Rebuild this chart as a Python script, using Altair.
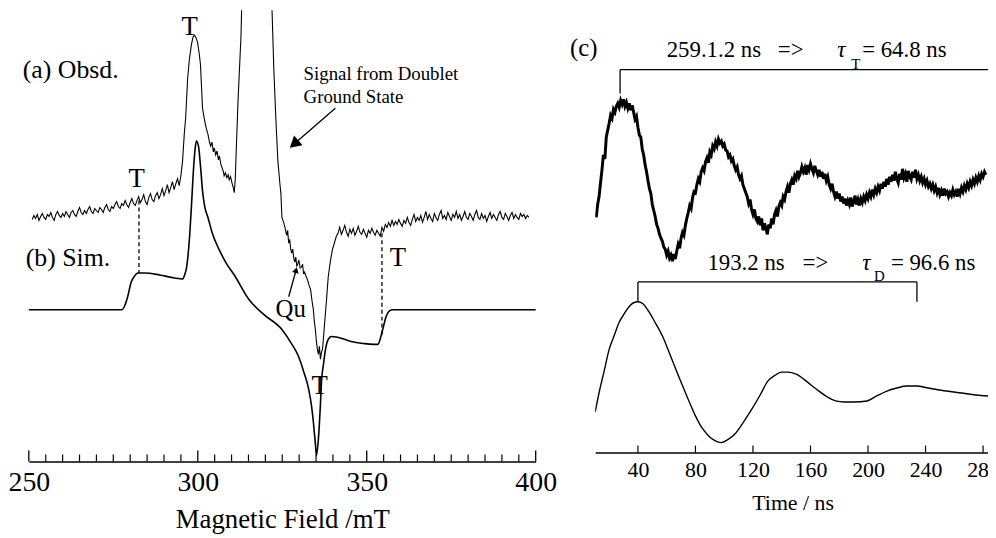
import altair as alt
import pandas as pd

FONT = "Liberation Serif"

# ================= LEFT PANEL : EPR spectra (field in mT, signal in a.u.) =================
obs_base_field = [251.0, 251.5, 252.0, 252.5, 253.0, 253.5, 254.0, 254.5, 255.0, 255.5,
                  256.0, 256.5, 257.0, 257.5, 258.0, 258.5, 259.0, 259.5, 260.0, 260.5,
                  261.0, 261.5, 262.0, 262.5, 263.0, 263.5, 264.0, 264.5, 265.0, 265.5,
                  266.0, 266.5, 267.0, 267.5, 268.0, 268.5, 269.0, 269.5, 270.0, 270.5,
                  271.0, 271.5, 272.0, 272.5, 273.0, 273.5, 274.0, 274.5, 275.0, 275.5,
                  276.0, 276.5, 277.0, 277.5, 278.0, 278.5, 279.0, 279.5, 280.0, 280.5,
                  281.0, 281.5, 282.0, 282.5, 283.0, 283.5, 284.0, 284.5, 285.0, 285.5,
                  286.0, 286.5, 287.0, 287.5, 288.0, 288.5, 289.0, 289.5, 290.0, 290.5,
                  291.0, 291.5, 292.0, 292.5, 293.0, 293.5, 294.0, 294.5]
obs_base_signal = [244, 248, 245, 249, 243, 247, 250, 246, 244, 249,
                   247, 251, 246, 243, 249, 252, 248, 246, 250, 247,
                   252, 249, 246, 251, 253, 249, 247, 252, 256, 251,
                   249, 253, 250, 254, 257, 252, 250, 255, 253, 251,
                   256, 254, 251, 256, 259, 254, 252, 257, 255, 259,
                   262, 257, 255, 260, 258, 263, 259, 256, 261, 265,
                   260, 258, 263, 267, 261, 264, 269, 262, 259, 266,
                   270, 264, 262, 268, 271, 265, 269, 275, 268, 273,
                   279, 271, 276, 282, 274, 280, 285, 278]
obs_peak_field = [295.0, 295.5, 296.0, 296.4, 297.0, 297.5, 298.1, 298.6, 299.0, 299.5,
                  299.9, 300.4, 300.8, 301.1, 301.4, 302.0, 302.5, 303.0, 303.4, 303.8,
                  304.2, 304.6, 304.9, 305.3, 305.7, 306.1, 306.4, 306.8, 307.2, 307.6,
                  307.8, 308.2, 308.6, 309.0, 309.3, 309.7, 310.1, 310.5, 310.8, 311.1,
                  311.3, 311.9, 312.8, 313.4, 321.3, 321.9, 322.5, 323.1, 323.7, 324.3,
                  324.6, 324.9]
obs_peak_signal = [288, 303, 330, 346, 386, 405, 420, 428, 430, 427,
                   423, 412, 400, 378, 356, 344, 336, 330, 323, 318,
                   322, 312, 316, 309, 313, 304, 308, 300, 296, 292,
                   288, 291, 286, 289, 284, 287, 281, 276, 271, 285,
                   306, 363, 430, 520, 520, 463, 396, 346, 303, 280,
                   270, 246]
obs_tail_field = [325.4, 325.8, 326.3, 326.6, 326.9, 327.2, 327.5, 327.8, 328.1, 328.4,
                  328.7, 329.0, 329.3, 329.5, 329.9, 330.3, 330.7, 331.0, 331.3, 331.6,
                  332.0, 332.5, 332.9, 333.4, 333.8, 334.2, 334.5, 334.8, 335.1, 335.4,
                  335.7, 336.0, 336.3, 336.6, 336.9, 337.2, 337.5, 338.1, 338.6, 339.2,
                  339.8, 340.4, 341.0]
obs_tail_signal = [241, 236, 228, 233, 220, 224, 214, 210, 214, 205,
                   201, 206, 197, 198, 203, 195, 196, 199, 190, 191,
                   187, 183, 178, 173, 162, 153, 141, 133, 121, 113,
                   108, 116, 103, 110, 113, 125, 138, 163, 186, 201,
                   213, 220, 227]
obs_high_field = [341.5, 342.0, 342.5, 343.0, 343.5, 344.0, 344.5, 345.0, 345.5, 346.0,
                  346.5, 347.0, 347.5, 348.0, 348.5, 349.0, 349.5, 350.0, 350.5, 351.0,
                  351.5, 352.0, 352.5, 353.0, 353.5, 354.0, 354.5, 355.0, 355.5, 356.0,
                  356.5, 357.0, 357.5, 358.0, 358.5, 359.0, 359.5, 360.0, 360.5, 361.0,
                  361.5, 362.0, 362.5, 363.0, 363.5, 364.0, 364.5, 365.0, 365.5, 366.0,
                  366.5, 367.0, 367.5, 368.0, 368.5, 369.0, 369.5, 370.0, 370.5, 371.0,
                  371.5, 372.0, 372.5, 373.0, 373.5, 374.0, 374.5, 375.0, 375.5, 376.0,
                  376.5, 377.0, 377.5, 378.0, 378.5, 379.0, 379.5, 380.0, 380.5, 381.0,
                  381.5, 382.0, 382.5, 383.0, 383.5, 384.0, 384.5, 385.0, 385.5, 386.0,
                  386.5, 387.0, 387.5, 388.0, 388.5, 389.0, 389.5, 390.0, 390.5, 391.0,
                  391.5, 392.0, 392.5, 393.0, 393.5, 394.0, 394.5, 395.0, 395.5, 396.0,
                  396.5, 397.0, 397.5, 398.0]
obs_high_signal = [230, 236, 229, 233, 238, 231, 227, 234, 230, 235,
                   228, 232, 237, 231, 229, 234, 230, 226, 233, 230,
                   235, 231, 228, 233, 230, 227, 236, 232, 239, 236,
                   241, 237, 243, 238, 242, 239, 244, 240, 237, 243,
                   240, 246, 241, 238, 244, 249, 242, 246, 243, 248,
                   241, 246, 252, 244, 249, 245, 242, 250, 246, 243,
                   249, 253, 245, 248, 244, 251, 247, 243, 249, 246,
                   252, 245, 249, 243, 247, 252, 246, 244, 250, 247,
                   243, 249, 253, 246, 244, 250, 245, 248, 242, 247,
                   251, 245, 249, 246, 243, 249, 252, 246, 244, 250,
                   247, 243, 248, 251, 245, 249, 246, 244, 250, 247,
                   249, 245, 248, 246]

sim_field = [250.0, 277.6, 278.5, 279.4, 280.2, 281.1, 282.3, 284.3, 288.7, 293.1,
             295.5, 296.1, 296.7, 297.6, 298.1, 298.7, 299.3, 299.6, 300.2, 300.8,
             301.4, 302.0, 303.1, 304.3, 306.4, 308.4, 310.8, 315.2, 319.6, 324.9,
             327.5, 329.8, 331.3, 332.8, 333.7, 334.2, 334.8, 335.1, 335.7, 336.3,
             336.6, 337.2, 337.8, 338.6, 339.5, 341.6, 345.4, 348.9, 351.9, 353.3,
             354.2, 355.1, 355.7, 356.8, 357.7, 400.0]
sim_signal = [153, 153, 158, 168, 180, 186, 190, 190, 188, 185,
              184, 188, 196, 228, 256, 293, 318, 323, 318, 298,
              273, 258, 245, 230, 213, 200, 188, 163, 148, 133,
              120, 106, 91, 73, 55, 40, 18, 6, 23, 58,
              80, 98, 113, 123, 126, 125, 121, 119, 118, 118,
              126, 138, 146, 152, 153, 153]

field_major = [250, 300, 350, 400]
field_minor = [255, 260, 265, 270, 275, 280, 285, 290, 295, 305, 310, 315, 320, 325,
               330, 335, 340, 345, 355, 360, 365, 370, 375, 380, 385, 390, 395]

dash_field = [282.6, 354.5]
dash_top = [263, 230]
dash_bottom = [190, 125]

t_label_field = [297.6, 281.9, 359.2, 336.1]
t_label_signal = [438, 285, 205, 76]
panel_text = ["(a) Obsd.", "(b) Sim."]
panel_field = [248.2, 249.1]
panel_signal = [395, 205]
qu_text = ["Qu"]
qu_field = [327.5]
qu_signal = [154]
note_text = ["Signal from Doublet", "Ground State"]
note_field = [331.3, 331.3]
note_signal = [391, 367]

arrow_x1 = [340.7, 326.9]
arrow_y1 = [356, 166]
arrow_x2 = [328.5, 329.1]
arrow_y2 = [320, 193]
arrow_angle = [229, 15]
arrow_size = [170, 45]

# ================= RIGHT PANEL : nutation transients (time in ns) =================
obs_time = list(range(11, 283))
obs_amp = [237, 250, 258, 272, 285, 300, 296, 318, 325, 332,
           340, 337, 346, 343, 349, 352, 348, 355, 351, 356,
           349, 353, 347, 352, 345, 350, 343, 336, 339, 328,
           320, 318, 306, 300, 290, 283, 274, 266, 261, 250,
           244, 238, 230, 226, 220, 216, 213, 207, 205, 199,
           203, 196, 199, 193, 200, 195, 203, 210, 206, 216,
           222, 219, 229, 236, 242, 249, 246, 257, 263, 262,
           270, 276, 273, 283, 287, 284, 293, 297, 292, 303,
           300, 309, 306, 313, 309, 316, 312, 314, 309, 311,
           305, 304, 298, 300, 294, 296, 289, 285, 288, 280,
           276, 279, 270, 266, 262, 258, 251, 255, 245, 240,
           245, 236, 233, 238, 229, 236, 224, 231, 226, 220,
           230, 226, 236, 230, 240, 244, 238, 248, 252, 249,
           258, 255, 263, 268, 262, 271, 275, 270, 279, 276,
           284, 278, 282, 288, 283, 287, 280, 290, 285, 291,
           286, 282, 289, 284, 280, 285, 278, 283, 276, 281,
           274, 278, 270, 266, 271, 263, 258, 263, 256, 261,
           253, 258, 251, 256, 249, 254, 250, 257, 248, 253,
           259, 250, 255, 249, 256, 252, 258, 254, 260, 256,
           262, 258, 265, 260, 266, 262, 268, 264, 271, 266,
           273, 268, 276, 270, 278, 273, 280, 274, 283, 276,
           272, 281, 275, 286, 277, 281, 273, 284, 278, 275,
           283, 277, 285, 276, 280, 274, 278, 272, 276, 270,
           274, 268, 271, 266, 270, 264, 268, 262, 267, 260,
           264, 259, 266, 261, 263, 258, 262, 259, 265, 260,
           263, 258, 266, 261, 267, 263, 269, 265, 271, 267,
           273, 269, 275, 271, 277, 273, 279, 275, 281, 278,
           283, 280]

sim_time = [10.3, 13.1, 16.5, 20.0, 23.5, 26.9, 30.5, 33.8, 37.0, 40.0,
            43.5, 47.6, 52.0, 57.2, 62.5, 68.3, 74.0, 80.0, 84.5, 89.0,
            93.5, 97.9, 102.5, 107.6, 113.5, 119.3, 125.0, 130.3, 135.5, 140.0,
            144.1, 150.0, 157.9, 164.0, 171.7, 177.5, 183.4, 190.0, 199.3, 206.0,
            213.1, 220.0, 227.0, 233.8, 242.0, 254.5, 265.0, 275.0, 284.0]
sim_amp = [41, 61, 82, 104, 118, 131, 140, 147, 151, 152,
           150, 142, 131, 117, 98, 77, 57, 37, 25, 17,
           12, 10, 13, 19, 31, 44, 58, 72, 78, 81,
           81, 79, 71, 64, 56, 52, 51, 51, 52, 57,
           62, 65, 67, 67, 65, 62, 60, 58, 57]

time_ticks = [40, 80, 120, 160, 200, 240, 280]

brk_h_t1 = [27.6, 40.0]
brk_h_t2 = [286.7, 234.0]
brk_h_amp = [386, 172]
brk_v_t = [27.6, 40.0, 234.0]
brk_v_top = [386, 172, 172]
brk_v_bot = [362, 152, 152]

ann_text = ["259.1.2 ns", "=>", "= 64.8 ns", "193.2 ns", "=>", "= 96.6 ns"]
ann_time = [60.0, 137.3, 195.9, 88.3, 154.5, 215.9]
ann_amp = [399, 399, 399, 184, 184, 184]
tau_time = [178.6, 195.9]
tau_amp = [399, 184]
sub_text = ["T", "D"]
sub_time = [188.3, 204.1]
sub_amp = [387, 173]
c_text = ["(c)"]
c_time = [2.4]
c_amp = [408]

# ================= build charts =================
LW, LH = 511, 455
RW, RH = 398, 446

xs_l = alt.Scale(domain=[250, 400], nice=False, zero=False)
ys_l = alt.Scale(domain=[0, LH], nice=False, zero=False)
xs_r = alt.Scale(domain=[10.3, 284.8], nice=False, zero=False)
ys_r = alt.Scale(domain=[0, RH], nice=False, zero=False)

left_axis = alt.Axis(values=field_major, ticks=False, labelFlush=False, labelFont=FONT,
                     labelFontSize=28, labelColor="black", labelPadding=7,
                     domainColor="black", domainWidth=1.5, grid=False,
                     title="Magnetic Field /mT", titleFont=FONT, titleFontSize=27,
                     titleFontWeight="normal", titleColor="black", titlePadding=11)
right_axis = alt.Axis(values=time_ticks, ticks=False, labelFlush=False, labelFont=FONT,
                      labelFontSize=22, labelColor="black", labelPadding=7,
                      domainColor="black", domainWidth=1.3, grid=False,
                      title="Time / ns", titleFont=FONT, titleFontSize=22,
                      titleFontWeight="normal", titleColor="black", titlePadding=12)


def XL(f):
    return alt.X(f, type="quantitative", scale=xs_l, axis=left_axis)


def YL(f):
    return alt.Y(f, type="quantitative", scale=ys_l, axis=None)


def XR(f):
    return alt.X(f, type="quantitative", scale=xs_r, axis=right_axis)


def YR(f):
    return alt.Y(f, type="quantitative", scale=ys_r, axis=None)


obs_df = pd.DataFrame({
    "f": obs_base_field + obs_peak_field + obs_tail_field + obs_high_field,
    "v": obs_base_signal + obs_peak_signal + obs_tail_signal + obs_high_signal,
})
obs_df["i"] = range(len(obs_df))

l_obs = alt.Chart(obs_df).mark_line(color="black", strokeWidth=1.1, clip=True).encode(
    x=XL("f"), y=YL("v"), order="i:Q")

sim_df = pd.DataFrame({"f": sim_field, "v": sim_signal})
l_sim = alt.Chart(sim_df).mark_line(color="black", strokeWidth=1.6, interpolate="monotone").encode(
    x=XL("f"), y=YL("v"))

l_major = alt.Chart(pd.DataFrame({"f": field_major})).mark_rule(color="black", strokeWidth=1.3).encode(
    x=XL("f"), y=alt.value(LH), y2=alt.value(LH - 11))
l_minor = alt.Chart(pd.DataFrame({"f": field_minor})).mark_rule(color="black", strokeWidth=1.2).encode(
    x=XL("f"), y=alt.value(LH), y2=alt.value(LH - 7))

l_dash = alt.Chart(pd.DataFrame({"f": dash_field, "a": dash_top, "b": dash_bottom})).mark_rule(
    color="black", strokeWidth=1.3, strokeDash=[4, 3]).encode(x=XL("f"), y=YL("a"), y2="b:Q")


def ltext(texts, fs, vs, size, align="left", style="normal"):
    df = pd.DataFrame({"f": fs, "v": vs, "s": texts})
    return alt.Chart(df).mark_text(font=FONT, fontSize=size, align=align, baseline="middle",
                                   color="black", fontStyle=style).encode(
        x=XL("f"), y=YL("v"), text="s:N")


l_T = ltext(["T"] * len(t_label_field), t_label_field, t_label_signal, 27, align="center")
l_panel = ltext(panel_text, panel_field, panel_signal, 26)
l_qu = ltext(qu_text, qu_field, qu_signal, 25, align="center")
l_note = ltext(note_text, note_field, note_signal, 19)

arr_df = pd.DataFrame({"x1": arrow_x1, "y1": arrow_y1, "x2": arrow_x2, "y2": arrow_y2,
                       "ang": arrow_angle, "sz": arrow_size})
l_arrow_line = alt.Chart(arr_df).mark_rule(color="black", strokeWidth=1.3).encode(
    x=XL("x1"), y=YL("y1"), x2="x2:Q", y2="y2:Q")
l_arrow_head = alt.Chart(arr_df).mark_point(shape="triangle-up", filled=True, color="black",
                                            opacity=1, strokeWidth=0).encode(
    x=XL("x2"), y=YL("y2"), angle=alt.Angle("ang:Q", scale=None),
    size=alt.Size("sz:Q", scale=None, legend=None))

left = alt.layer(l_obs, l_sim, l_major, l_minor, l_dash, l_T, l_panel, l_qu, l_note,
                 l_arrow_line, l_arrow_head).properties(width=LW, height=LH)

r_obs = alt.Chart(pd.DataFrame({"t": obs_time, "v": obs_amp})).mark_line(
    color="black", strokeWidth=3, clip=True).encode(x=XR("t"), y=YR("v"))
r_sim = alt.Chart(pd.DataFrame({"t": sim_time, "v": sim_amp})).mark_line(
    color="black", strokeWidth=1.4, interpolate="monotone", clip=True).encode(x=XR("t"), y=YR("v"))

r_ticks = alt.Chart(pd.DataFrame({"t": time_ticks})).mark_rule(color="black", strokeWidth=1.2).encode(
    x=XR("t"), y=alt.value(RH), y2=alt.value(RH - 7))

r_bh = alt.Chart(pd.DataFrame({"a": brk_h_t1, "b": brk_h_t2, "v": brk_h_amp})).mark_rule(
    color="black", strokeWidth=1.3, clip=True).encode(x=XR("a"), x2="b:Q", y=YR("v"))
r_bv = alt.Chart(pd.DataFrame({"t": brk_v_t, "a": brk_v_top, "b": brk_v_bot})).mark_rule(
    color="black", strokeWidth=1.3).encode(x=XR("t"), y=YR("a"), y2="b:Q")


def rtext(texts, ts, vs, size, align="left", baseline="alphabetic", style="normal"):
    df = pd.DataFrame({"t": ts, "v": vs, "s": texts})
    return alt.Chart(df).mark_text(font=FONT, fontSize=size, align=align, baseline=baseline,
                                   color="black", fontStyle=style).encode(
        x=XR("t"), y=YR("v"), text="s:N")


r_ann = rtext(ann_text, ann_time, ann_amp, 23)
r_tau = rtext(["τ", "τ"], tau_time, tau_amp, 23, style="italic")
r_sub = rtext(sub_text, sub_time, sub_amp, 15)
r_c = rtext(c_text, c_time, c_amp, 25, align="center", baseline="middle")

right = alt.layer(r_obs, r_sim, r_ticks, r_bh, r_bv, r_ann, r_tau, r_sub, r_c).properties(
    width=RW, height=RH)

chart = alt.hconcat(left, right, spacing=60, bounds="flush").properties(
    padding={"left": 0, "top": 0, "right": -12, "bottom": 0}
).configure_view(stroke=None)

chart.save("out.html", embed_options={"renderer": "svg", "actions": False})
